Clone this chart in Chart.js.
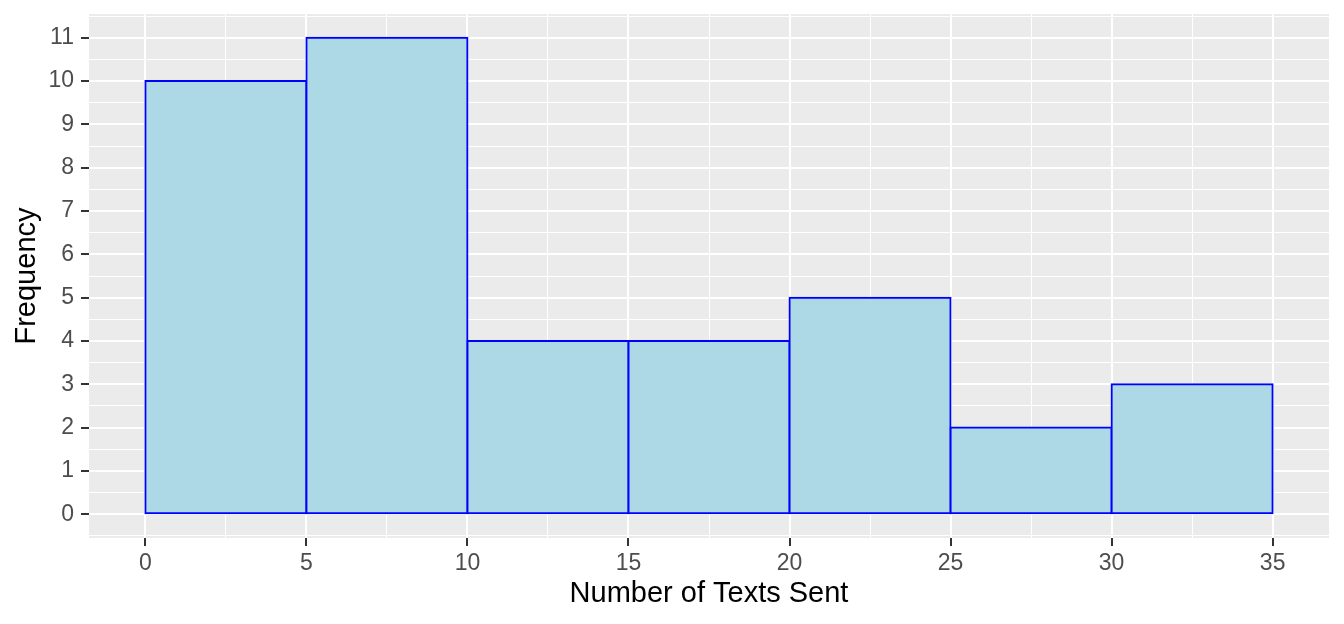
<!DOCTYPE html>
<html>
<head>
<meta charset="utf-8">
<script src="https://cdn.jsdelivr.net/npm/chart.js@4"></script>
<style>
  html, body { margin: 0; padding: 0; background: #ffffff; }
  #wrap { width: 1344px; height: 624px; }
</style>
</head>
<body>
<div id="wrap"><canvas id="c" width="1344" height="624"></canvas></div>
<script>
// ---- data ----
const binStarts = [0, 5, 10, 15, 20, 25, 30];
const binWidth = 5;
const counts = [10, 11, 4, 4, 5, 2, 3];
const xMajorTicks = [0, 5, 10, 15, 20, 25, 30, 35];
const xMinorTicks = [2.5, 7.5, 12.5, 17.5, 22.5, 27.5, 32.5];
const yMajorTicks = [0, 1, 2, 3, 4, 5, 6, 7, 8, 9, 10, 11];
const yMinorTicks = [-0.5, 0.5, 1.5, 2.5, 3.5, 4.5, 5.5, 6.5, 7.5, 8.5, 9.5, 10.5, 11.5];
const xTitle = 'Number of Texts Sent';
const yTitle = 'Frequency';

const FONT = "'Liberation Sans', Arial, sans-serif";
const isInt = v => Math.abs(v - Math.round(v)) < 1e-9;

const panelBg = {
  id: 'panelBg',
  beforeDraw(chart) {
    const {ctx, chartArea: a} = chart;
    ctx.save();
    ctx.fillStyle = '#EBEBEB';
    ctx.fillRect(a.left, a.top, a.right - a.left, a.bottom - a.top);
    ctx.restore();
  }
};

const yAll = yMinorTicks.concat(yMajorTicks).sort((a, b) => a - b);

new Chart(document.getElementById('c'), {
  type: 'bar',
  data: {
    datasets: [{
      data: binStarts.map((s, i) => ({x: s + binWidth / 2, y: counts[i]})),
      backgroundColor: '#ADD8E6',
      borderColor: '#0000FF',
      borderWidth: 2,
      borderSkipped: false,
      inflateAmount: 1,
      barPercentage: 1,
      categoryPercentage: 1
    }]
  },
  options: {
    responsive: false,
    animation: false,
    devicePixelRatio: 1,
    layout: { padding: { left: 0, right: 15, top: 14, bottom: 0 } },
    plugins: { legend: { display: false }, tooltip: { enabled: false } },
    scales: {
      x: {
        type: 'linear',
        position: 'bottom',
        min: -1.75,
        max: 36.75,
        offset: false,
        afterBuildTicks: s => { s.ticks = xMajorTicks.map(v => ({value: v})); },
        afterFit: s => { s.height = 86; s.paddingLeft = 0; s.paddingRight = 0; },
        border: { display: false },
        grid: {
          offset: false,
          color: '#FFFFFF',
          lineWidth: 2,
          tickColor: '#333333',
          tickWidth: 2,
          tickLength: 8
        },
        ticks: {
          autoSkip: false,
          maxRotation: 0,
          padding: 4,
          color: '#4D4D4D',
          font: { family: FONT, size: 23 },
          callback: v => String(v)
        },
        title: {
          display: true,
          text: xTitle,
          color: '#000000',
          font: { family: FONT, size: 29 },
          padding: { top: 0, bottom: 12.5 }
        }
      },
      x2: {
        type: 'linear',
        position: 'bottom',
        min: -1.75,
        max: 36.75,
        offset: false,
        afterBuildTicks: s => { s.ticks = xMinorTicks.map(v => ({value: v})); },
        afterFit: s => { s.height = 0; s.paddingLeft = 0; s.paddingRight = 0; },
        border: { display: false },
        grid: { offset: false, color: '#FFFFFF', lineWidth: 1, drawTicks: false },
        ticks: { display: false },
        title: { display: false }
      },
      y: {
        type: 'linear',
        min: -0.55,
        max: 11.55,
        afterBuildTicks: s => { s.ticks = yAll.map(v => ({value: v})); },
        afterFit: s => { s.width = 89; s.paddingTop = 0; s.paddingBottom = 0; },
        border: { display: false },
        grid: {
          color: '#FFFFFF',
          lineWidth: c => (c.tick && isInt(c.tick.value)) ? 2 : 1,
          tickColor: c => (c.tick && isInt(c.tick.value)) ? '#333333' : 'rgba(0,0,0,0)',
          tickWidth: 2,
          tickLength: 8
        },
        ticks: {
          autoSkip: false,
          padding: 7,
          color: '#4D4D4D',
          font: { family: FONT, size: 23 },
          callback: v => isInt(v) ? String(Math.round(v)) : ''
        },
        title: {
          display: true,
          text: yTitle,
          color: '#000000',
          font: { family: FONT, size: 29 },
          padding: { top: 10, bottom: 0 }
        }
      }
    }
  },
  plugins: [panelBg]
});
</script>
</body>
</html>
